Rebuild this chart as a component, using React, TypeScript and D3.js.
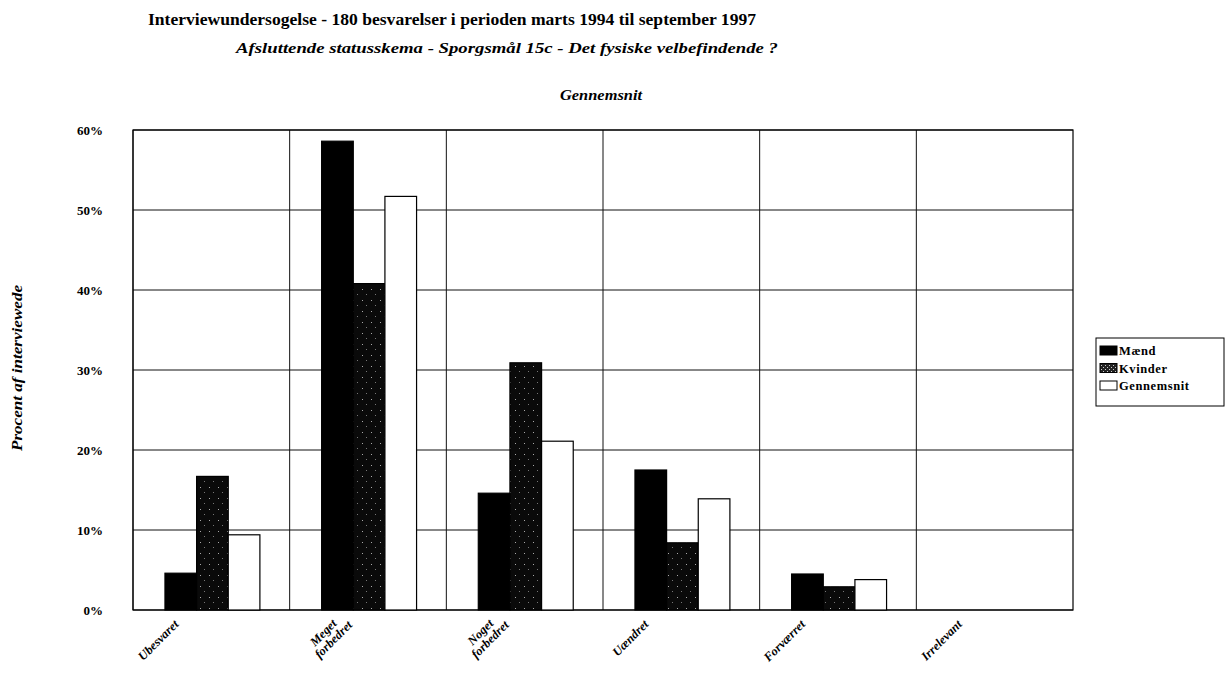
import React from "react";
import * as d3 from "d3";

const categories = ["Ubesvaret", "Meget forbedret", "Noget forbedret", "Uændret", "Forværret", "Irrelevant"];
const categoryLines = [["Ubesvaret"], ["Meget", "forbedret"], ["Noget", "forbedret"], ["Uændret"], ["Forværret"], ["Irrelevant"]];
const seriesNames = ["Mænd", "Kvinder", "Gennemsnit"];
const maend = [4.6, 58.6, 14.6, 17.5, 4.5, 0];
const kvinder = [16.7, 40.8, 30.9, 8.4, 2.9, 0];
const gennemsnit = [9.4, 51.7, 21.1, 13.9, 3.8, 0];
const yTicks = [0, 10, 20, 30, 40, 50, 60];

const W = 1226, H = 687;
const plot = { left: 133, right: 1073, top: 130, bottom: 610 };
const FONT = "'Liberation Serif', 'Times New Roman', serif";

export default function App() {
  const x0 = d3.scaleBand<string>().domain(categories).range([plot.left, plot.right]).padding(0);
  const bw = x0.bandwidth();
  const x1 = d3.scaleBand<string>().domain(seriesNames).range([bw * 0.204, bw * 0.81]).padding(0);
  const y = d3.scaleLinear().domain([0, 60]).range([plot.bottom, plot.top]);
  const allSeries = [maend, kvinder, gennemsnit];
  const fills = ["#000", "url(#kv)", "#fff"];

  return (
    <svg width={W} height={H} style={{ position: "absolute", left: 0, top: 0, background: "#fff" }} fontFamily={FONT}>
      <defs>
        <pattern id="kv" width="9" height="11" patternUnits="userSpaceOnUse">
          <rect width="9" height="11" fill="#0a0a0a" />
          <rect x="2" y="3" width="1" height="1" fill="#aaa" />
          <rect x="6" y="8" width="1" height="1" fill="#777" />
        </pattern>
        <pattern id="kvl" width="4" height="4" patternUnits="userSpaceOnUse">
          <rect width="4" height="4" fill="#222" />
          <rect x="1" y="1" width="1" height="1" fill="#ccc" />
          <rect x="3" y="3" width="1" height="1" fill="#ccc" />
        </pattern>
      </defs>
      <rect width={W} height={H} fill="#fff" />
      <text x={148} y={25} fontSize={17} fontWeight="bold" textLength={608} lengthAdjust="spacingAndGlyphs">
        Interviewundersogelse - 180 besvarelser i perioden marts 1994 til september 1997
      </text>
      <text x={236} y={53} fontSize={15.5} fontWeight="bold" fontStyle="italic" textLength={542} lengthAdjust="spacingAndGlyphs">
        Afsluttende statusskema - Sporgsmål 15c - Det fysiske velbefindende ?
      </text>
      <text x={560} y={100} fontSize={14} fontWeight="bold" fontStyle="italic" textLength={82} lengthAdjust="spacingAndGlyphs">
        Gennemsnit
      </text>
      <text transform={`translate(22,${368}) rotate(-90)`} fontSize={15} fontWeight="bold" fontStyle="italic" textAnchor="middle"
        textLength={166} lengthAdjust="spacingAndGlyphs">
        Procent af interviewede
      </text>

      {yTicks.map((t) => (
        <g key={t}>
          <line x1={plot.left} x2={plot.right} y1={y(t)} y2={y(t)} stroke="#111" strokeWidth={1} />
          <text x={103} y={y(t) + 4.5} fontSize={13} fontWeight="bold" textAnchor="end">{t}%</text>
        </g>
      ))}
      {categories.map((c) => (
        <line key={c} x1={x0(c)!} x2={x0(c)!} y1={plot.top} y2={plot.bottom} stroke="#111" strokeWidth={1} />
      ))}
      <rect x={plot.left} y={plot.top} width={plot.right - plot.left} height={plot.bottom - plot.top} fill="none" stroke="#000" strokeWidth={1.2} />

      {categories.map((c, ci) => (
        <g key={c}>
          {seriesNames.map((s, si) => {
            const v = allSeries[si][ci];
            if (v <= 0) return null;
            const bx = x0(c)! + x1(s)!;
            return (
              <rect key={s} x={bx} y={y(v)} width={x1.bandwidth()} height={plot.bottom - y(v)}
                fill={fills[si]} stroke="#000" strokeWidth={1.2} />
            );
          })}
        </g>
      ))}

      {categories.map((c, ci) => {
        const lines = categoryLines[ci];
        const two = lines.length > 1;
        const cx = x0(c)! + bw / 2 - (two ? 27 : 32);
        const cy = plot.bottom + 15;
        return (
          <text key={c} transform={`translate(${cx},${cy}) rotate(-45)`} fontSize={12.5} fontWeight="bold" fontStyle="italic" textAnchor="end">
            {lines.map((l, li) => (
              <tspan key={li} x={two ? (li === 0 ? -2 : 8) : 0} dy={li === 0 ? (two ? -3 : 0) : 12}>{l}</tspan>
            ))}
          </text>
        );
      })}

      <rect x={1096} y={338} width={128} height={68} fill="#fff" stroke="#000" strokeWidth={1} />
      {seriesNames.map((s, i) => (
        <g key={s}>
          <rect x={1100} y={346 + i * 17.5} width={17} height={9} fill={i === 1 ? "url(#kvl)" : fills[i]} stroke="#000" strokeWidth={1} />
          <text x={1119} y={355 + i * 17.5} fontSize={12.5} fontWeight="bold" letterSpacing={0.6}>{s}</text>
        </g>
      ))}
    </svg>
  );
}
